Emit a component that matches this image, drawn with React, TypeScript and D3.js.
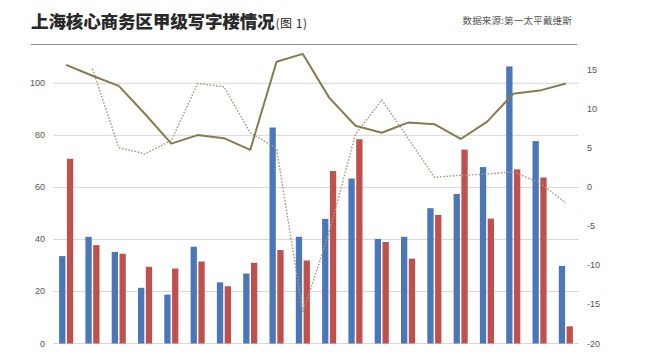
import React from "react";
import * as d3 from "d3";

const categories = ["2000","2001","2002","2003","2004","2005","2006","2007","2008","2009","2010","2011","2012","2013","2014","2015","2016","2017","2018","2019"];
const blueBars = [33.6, 41.0, 35.2, 21.4, 18.8, 37.2, 23.5, 26.9, 83.0, 41.0, 47.9, 63.4, 40.2, 41.0, 52.0, 57.5, 67.8, 106.5, 77.8, 29.8];
const redBars = [71.0, 37.8, 34.5, 29.5, 28.8, 31.5, 22.0, 31.0, 35.9, 31.9, 66.3, 78.5, 39.0, 32.6, 49.4, 74.5, 48.0, 66.9, 63.8, 6.6];
const solidLine = [15.7, 14.3, 13.0, 9.4, 5.6, 6.7, 6.3, 4.8, 16.1, 17.1, 11.5, 7.9, 7.0, 8.3, 8.1, 6.2, 8.4, 12.0, 12.4, 13.3];
const dottedLine: (number | null)[] = [null, 15.2, 5.1, 4.3, 6.0, 13.3, 12.9, 7.0, 5.0, -16.0, -5.8, 6.8, 11.2, 6.3, 1.3, 1.55, 1.7, 2.0, 0.6, -2.0];
const leftTicks = [0, 20, 40, 60, 80, 100];
const rightTicks = [15, 10, 5, 0, -5, -10, -15, -20];

const W = 650, H = 352;
const X0 = 53, X1 = 579, YTOP = 70.3, YBOT = 343.5;

export default function App() {
  const x = d3.scaleBand<string>().domain(categories).range([X0, X1]).paddingInner(0).paddingOuter(0);
  const yL = d3.scaleLinear().domain([0, 105]).range([YBOT, YTOP]);
  const yR = d3.scaleLinear().domain([-20, 15]).range([YBOT, YTOP]);
  const bw = 6.3, gap = 1.5;
  const cx = (c: string) => (x(c) as number) + x.bandwidth() / 2;

  const solidPath = d3.line<number>().x((_, i) => cx(categories[i])).y(d => yR(d))(solidLine) || "";
  const dotted = d3.line<number | null>()
    .defined(d => d !== null)
    .x((_, i) => cx(categories[i]))
    .y(d => yR(d as number))(dottedLine) || "";

  const font = "'Liberation Sans', 'DejaVu Sans', sans-serif";
  const cjk = "'Noto Sans CJK SC', sans-serif";

  return (
    <svg width={W} height={H} style={{ position: "absolute", left: 0, top: 0, background: "#fff" }}>
      <text x={31} y={28} fontFamily={cjk} fontWeight={900} fontSize={17.6} fill="#2a2a2a" letterSpacing={-0.2}>
        上海核心商务区甲级写字楼情况
        <tspan fontSize={12} fontWeight={400} dx={1} letterSpacing={0.5}>(图 1)</tspan>
      </text>
      <text x={572} y={24} textAnchor="end" fontFamily={cjk} fontSize={9.5} fill="#555" letterSpacing={0.2}>数据来源:第一太平戴维斯</text>
      <line x1={31} x2={577} y1={44.5} y2={44.5} stroke="#8a8a8a" strokeWidth={1} />

      {leftTicks.map(t => (
        <g key={"l" + t}>
          <line x1={X0} x2={X1} y1={yL(t)} y2={yL(t)} stroke="#d8d8d8" strokeWidth={1} />
          <text x={45} y={yL(t) + 3} textAnchor="end" fontFamily={font} fontSize={9} fill="#555">{t}</text>
        </g>
      ))}
      {rightTicks.map(t => (
        <text key={"r" + t} x={587} y={yR(t) + 3} fontFamily={font} fontSize={9} fill="#555">{t}</text>
      ))}

      {categories.map((c, i) => (
        <g key={c}>
          <rect x={cx(c) - gap / 2 - bw} y={yL(blueBars[i])} width={bw} height={YBOT - yL(blueBars[i])} fill="#4a77b7" />
          <rect x={cx(c) + gap / 2} y={yL(redBars[i])} width={bw} height={YBOT - yL(redBars[i])} fill="#c0504d" />
          <text x={cx(c)} y={358} textAnchor="middle" fontFamily={font} fontSize={9} fill="#777">{c}</text>
        </g>
      ))}

      <path d={dotted} fill="none" stroke="#a39a7a" strokeWidth={1.4} strokeDasharray="1.6,1.6" />
      <path d={solidPath} fill="none" stroke="#857a50" strokeWidth={2} strokeLinejoin="round" />
    </svg>
  );
}
